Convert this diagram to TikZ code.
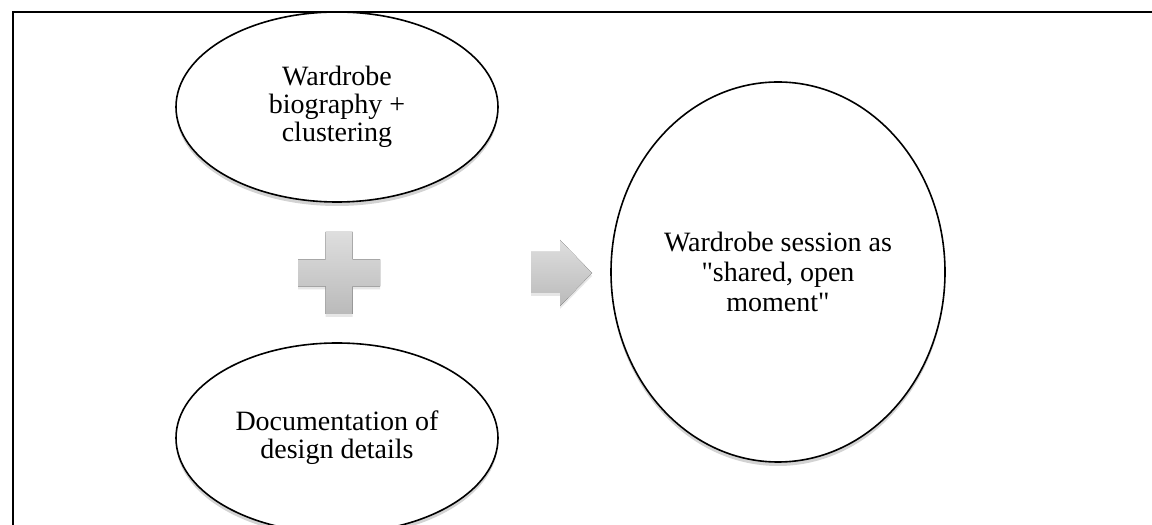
\documentclass[tikz,border=0pt]{standalone}
\usepackage{fontspec}
\setmainfont{Liberation Serif}
\usepackage{xcolor}
\usetikzlibrary{
	shapes.geometric,
	shadows,
	positioning
}

\definecolor{greyTop}{RGB}{222,222,222}
\definecolor{greyBot}{RGB}{186,186,186}

\tikzset{
	oval/.style={draw, ellipse, line width=1.6pt, fill=white, inner sep=0pt,
		align=center, font=\fontsize{28pt}{28pt}\selectfont,
		drop shadow={shadow xshift=0pt, shadow yshift=-4pt, opacity=0.35}},
	greysign/.style={top color=greyTop, bottom color=greyBot, draw=none,
		drop shadow={shadow xshift=0pt, shadow yshift=-3pt, opacity=0.2}}
}

\begin{document}
\begin{tikzpicture}[x=1pt, y=1pt]
	\useasboundingbox (0,0) rectangle (1152,525);
	
	% 外框
	\draw[line width=1.8pt] (13,-10) -- (13,513) -- (1170,513);
	
	% 左边两个椭圆
	\node[oval, minimum width=322pt, minimum height=190pt] (bio) at (337,418)
		{Wardrobe\\biography +\\clustering};
	\node[oval, minimum width=322pt, minimum height=190pt] (doc) at (337,87)
		{Documentation of\\design details};
	
	% 右边的大圆
	\node[oval, minimum width=334pt, minimum height=380pt] (session) at (778,253)
		{Wardrobe session as\\[2pt]\textquotedbl shared, open\\[2pt]moment\textquotedbl};
	
	% 加号和箭头
	\fill[greysign] (325.5,293) -- (352.5,293) -- (352.5,265.5) -- (380,265.5)
		-- (380,238.5) -- (352.5,238.5) -- (352.5,211) -- (325.5,211)
		-- (325.5,238.5) -- (298,238.5) -- (298,265.5) -- (325.5,265.5) -- cycle;
	\fill[greysign] (531,273) -- (560,273) -- (560,285) -- (592,252)
		-- (560,219) -- (560,232) -- (531,232) -- cycle;
\end{tikzpicture}
\end{document}
